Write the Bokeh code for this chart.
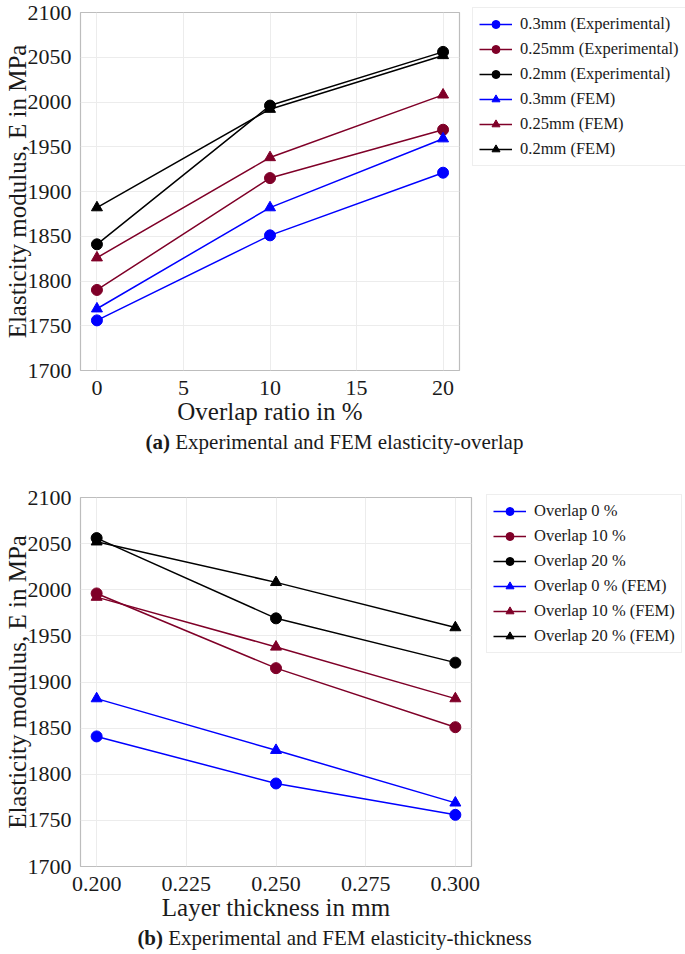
from bokeh.plotting import figure
from bokeh.layouts import column
from bokeh.models import Legend, LegendItem, Div, Range1d, FixedTicker, PrintfTickFormatter
from bokeh.embed import file_html
from bokeh.resources import INLINE

# ---- data ----
overlap = [0, 10, 20]
thickness = [0.2, 0.25, 0.3]

exp_03mm = [1756, 1851, 1921]
exp_025mm = [1790, 1915, 1969]
exp_02mm = [1841, 1996, 2056]
fem_03mm = [1769, 1882, 1959]
fem_025mm = [1826, 1938, 2008]
fem_02mm = [1882, 1992, 2052]

exp_ov0 = [1841, 1790, 1756]
exp_ov10 = [1996, 1915, 1851]
exp_ov20 = [2056, 1969, 1921]
fem_ov0 = [1882, 1826, 1769]
fem_ov10 = [1992, 1938, 1882]
fem_ov20 = [2052, 2008, 1959]

labels_a = ["0.3mm (Experimental)", "0.25mm (Experimental)", "0.2mm (Experimental)",
            "0.3mm (FEM)", "0.25mm (FEM)", "0.2mm (FEM)"]
labels_b = ["Overlap 0 %", "Overlap 10 %", "Overlap 20 %",
            "Overlap 0 % (FEM)", "Overlap 10 % (FEM)", "Overlap 20 % (FEM)"]
yticks = [1700, 1750, 1800, 1850, 1900, 1950, 2000, 2050, 2100]
xticks_a = [0, 5, 10, 15, 20]
xticks_b = [0.2, 0.225, 0.25, 0.275, 0.3]

BLUE = "#0000ff"
MAROON = "#7f0028"
BLACK = "#000000"
colors = [BLUE, MAROON, BLACK, BLUE, MAROON, BLACK]
markers = ["circle"] * 3 + ["triangle"] * 3
FONT = "'Liberation Serif'"

LEG_PAD = 6
LEG_ROW = 20
LEG_SP = 5
LEG_H = 2 * LEG_PAD + 6 * LEG_ROW + 5 * LEG_SP


def make_plot(x, series, labels, xr, xticks, xlabel, fw, fh, top, gap, lift, right, fmt=None):
    p = figure(frame_width=fw, frame_height=fh, output_backend="svg", toolbar_location=None,
               x_range=Range1d(*xr), y_range=Range1d(1700, 2100),
               min_border_top=top, min_border_bottom=0, min_border_left=0,
               min_border_right=right)
    p.background_fill_color = "white"
    p.border_fill_color = "white"
    p.outline_line_color = "#bdbdbd"
    p.outline_line_width = 1.2
    items = []
    for ys, lab, c, m in zip(series, labels, colors, markers):
        r1 = p.line(x, ys, line_color=c, line_width=1.5)
        r2 = p.scatter(x, ys, marker=m, size=11, fill_color=c, line_color=c)
        items.append(LegendItem(label=lab, renderers=[r1, r2]))
    for ax in (p.xaxis[0], p.yaxis[0]):
        ax.axis_line_color = None
        ax.major_tick_line_color = None
        ax.minor_tick_line_color = None
        ax.major_label_text_font = FONT
        ax.major_label_text_font_size = "22px"
        ax.major_label_text_color = "#1a1a1a"
        ax.axis_label_text_font = FONT
        ax.axis_label_text_font_size = "25px"
        ax.axis_label_text_font_style = "normal"
        ax.axis_label_text_color = "#1a1a1a"
    p.xaxis.ticker = FixedTicker(ticks=xticks)
    p.yaxis.ticker = FixedTicker(ticks=yticks)
    if fmt:
        p.xaxis.formatter = PrintfTickFormatter(format=fmt)
    p.xaxis.axis_label = xlabel
    p.yaxis.axis_label = "Elasticity modulus, E in MPa"
    p.xaxis.major_label_standoff = 4
    p.xaxis.axis_label_standoff = 0
    p.yaxis.major_label_standoff = 3
    p.yaxis.axis_label_standoff = -6
    p.grid.grid_line_color = "#ececec"
    p.grid.grid_line_width = 1
    leg = Legend(items=items, location=(gap, fh + lift - LEG_H), margin=0,
                 label_text_font=FONT, label_text_font_size="16.5px", label_text_color="#1a1a1a",
                 glyph_width=33, glyph_height=LEG_ROW, label_height=LEG_ROW, spacing=LEG_SP,
                 padding=LEG_PAD, label_standoff=8,
                 border_line_color="#dddddd", border_line_width=1,
                 background_fill_color="white", background_fill_alpha=1.0)
    p.add_layout(leg, "right")
    return p


p1 = make_plot(overlap, [exp_03mm, exp_025mm, exp_02mm, fem_03mm, fem_025mm, fem_02mm],
               labels_a, (-0.95, 20.95), xticks_a, "Overlap ratio in %", 379, 358, 12, 13, 3, 219)
p2 = make_plot(thickness, [exp_ov0, exp_ov10, exp_ov20, fem_ov0, fem_ov10, fem_ov20],
               labels_b, (0.1955, 0.3045), xticks_b, "Layer thickness in mm", 391, 369, 40, 15, 1,
               207, "%.3f")

cap_style = {"font-family": "Liberation Serif", "font-size": "21px", "color": "#1a1a1a",
             "text-align": "center", "width": "669px", "line-height": "30px"}
d1 = Div(text="<b>(a)</b> Experimental and FEM elasticity-overlap", width=669, height=30,
         styles=cap_style, margin=(0, 0, 0, 0))
d2 = Div(text="<b>(b)</b> Experimental and FEM elasticity-thickness", width=669, height=30,
         styles=cap_style, margin=(0, 0, 0, 0))

layout = column(p1, d1, p2, d2, spacing=0)
open("out.html", "w").write(file_html(layout, INLINE))
